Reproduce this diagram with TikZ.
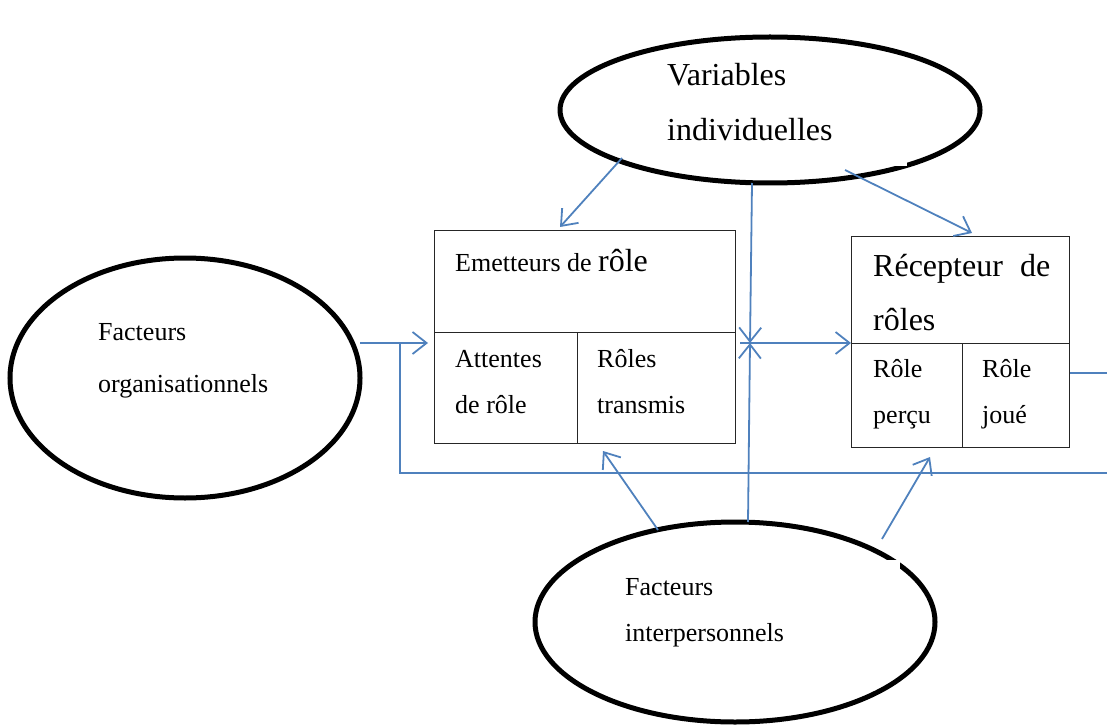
\documentclass[tikz,border=0pt]{standalone}
\usepackage{fontspec}
\setmainfont{Liberation Serif}
\usetikzlibrary{shapes.geometric,arrows.meta}
\definecolor{linkblue}{HTML}{4F81BD}
\tikzset{
  bubble/.style={ellipse, draw=black, line width=5pt, inner sep=0pt},
  cell/.style={rectangle, draw=black!85, line width=1.4pt, inner sep=0pt, anchor=north west},
  mask/.style={rectangle, fill=white, draw=none, inner sep=0pt, anchor=north west},
  link/.style={draw=linkblue, line width=1.8pt},
  flow/.style={link, -{Straight Barb[length=14pt,width=22pt]}},
  small/.style={anchor=base west, inner sep=0pt, font=\fontsize{26}{30}\selectfont},
  big/.style={anchor=base west, inner sep=0pt, font=\fontsize{32}{36}\selectfont},
}
\begin{document}
\begin{tikzpicture}[x=1pt,y=-1pt]
\useasboundingbox (0,0) rectangle (1107,727);

% ellipses
\node[bubble, minimum width=420pt, minimum height=146pt] (vi) at (770,110) {};
\node[bubble, minimum width=350pt, minimum height=240pt] (fo) at (185,378) {};
\node[bubble, minimum width=400pt, minimum height=200pt] (fi) at (735,622) {};

% white text frames lying over the ellipses
\node[mask, minimum width=260pt, minimum height=106pt] (vimask) at (647,60) {};
\node[mask, minimum width=300pt, minimum height=100pt] (fimask) at (600,560) {};

% role senders
\node[cell, minimum width=301pt, minimum height=102pt] (emhead) at (434,230) {};
\node[cell, minimum width=143pt, minimum height=111pt] (ema) at (434,332) {};
\node[cell, minimum width=158pt, minimum height=111pt] (emb) at (577,332) {};

% role receiver
\node[cell, minimum width=218pt, minimum height=107pt] (rchead) at (851,236) {};
\node[cell, minimum width=111pt, minimum height=104pt] (rca) at (851,343) {};
\node[cell, minimum width=107pt, minimum height=104pt] (rcb) at (962,343) {};

% connector end points
\coordinate (viA) at (622,158);
\coordinate (emIn) at (560,227);
\coordinate (viB) at (845,170);
\coordinate (rcIn) at (972,233);
\coordinate (viC) at (752,183);
\coordinate (fiC) at (748,522);
\coordinate (meet) at (750,343);
\coordinate (hStart) at (740,343);
\coordinate (foOut) at (360,343);
\coordinate (emLeft) at (428,343);
\coordinate (fork) at (400,343);
\coordinate (low) at (400,473);
\coordinate (lowEnd) at (1107,473);
\coordinate (rcOut) at (1107,373);
\coordinate (fiA) at (658,530);
\coordinate (emUp) at (603,451);
\coordinate (fiB) at (882,539);
\coordinate (rcUp) at (930,457);

% connectors
\draw[flow] (viA) -- (emIn);
\draw[flow] (viB) -- (rcIn);
\draw[flow] (viC) -- (meet);
\draw[flow] (fiC) -- (meet);
\draw[flow] (hStart) -- (rca.north west);
\draw[flow] (foOut) -- (emLeft);
\draw[link] (fork) -- (low) -- (lowEnd);
\draw[link] (rcb.east |- rcOut) -- (rcOut);
\draw[flow] (fiA) -- (emUp);
\draw[flow] (fiB) -- (rcUp);

% labels
\node[big] (t1) at (667,86) {Variables};
\node[big] (t2) at (667,141) {individuelles};
\node[small] (t3) at (455,271) {Emetteurs de {\fontsize{32}{36}\selectfont rôle}};
\node[big] (t4) at (873,276) {\hbox to 177pt{Récepteur\hfill de}};
\node[big] (t5) at (873,330) {rôles};
\node[small] (t6) at (455,367) {Attentes};
\node[small] (t7) at (455,413) {de rôle};
\node[small] (t8) at (597,367) {Rôles};
\node[small] (t9) at (597,413) {transmis};
\node[small] (t10) at (873,377) {Rôle};
\node[small] (t11) at (873,423) {perçu};
\node[small] (t12) at (982,377) {Rôle};
\node[small] (t13) at (982,423) {joué};
\node[small] (t14) at (98,340) {Facteurs};
\node[small] (t15) at (98,392) {organisationnels};
\node[small] (t16) at (625,595) {Facteurs};
\node[small] (t17) at (625,641) {interpersonnels};
\end{tikzpicture}
\end{document}
